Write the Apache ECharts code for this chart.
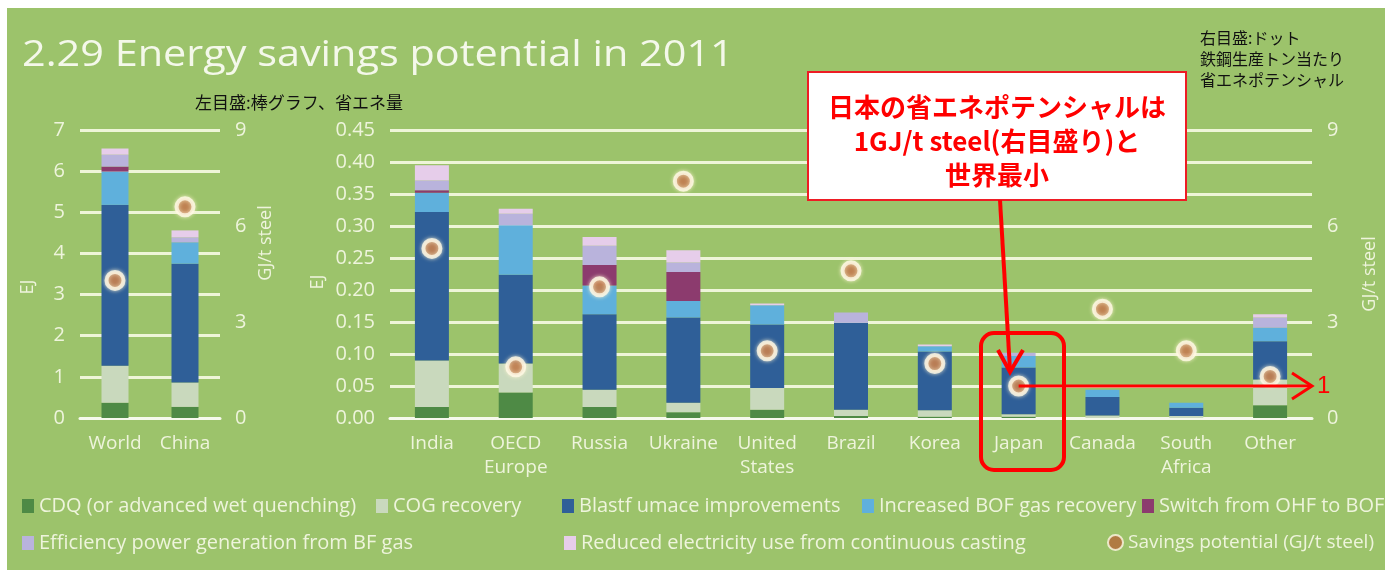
<!DOCTYPE html>
<html><head><meta charset="utf-8">
<script src="https://cdn.jsdelivr.net/npm/echarts@6/dist/echarts.min.js"></script>
<style>
html,body{margin:0;padding:0;background:#ffffff;}
#wrap{position:relative;width:1385px;height:578px;overflow:hidden;}
#bg{position:absolute;left:7px;top:8px;width:1378px;height:562px;background:#9cc36b;}
#c{position:absolute;left:0;top:0;width:1385px;height:578px;}
</style>
</head><body><div id="wrap"><div id="bg"></div><div id="c"></div></div>
<script>
// ---- data ----
const leftCategories = ['World', 'China'];
const rightCategories = ['India', 'OECD\nEurope', 'Russia', 'Ukraine', 'United\nStates', 'Brazil', 'Korea', 'Japan', 'Canada', 'South\nAfrica', 'Other'];
const seriesNames = ['CDQ (or advanced wet quenching)', 'COG recovery', 'Blastf umace improvements', 'Increased BOF gas recovery', 'Switch from OHF to BOF', 'Efficiency power generation from BF gas', 'Reduced electricity use from continuous casting'];
const dotName = 'Savings potential (GJ/t steel)';
// EJ, World / China
const cdqLeft = [0.37, 0.27];
const cogLeft = [0.90, 0.59];
const bfLeft = [3.91, 2.89];
const bofLeft = [0.81, 0.52];
const ohfLeft = [0.12, 0];
const effLeft = [0.29, 0.12];
const redLeft = [0.15, 0.17];
const savingsLeft = [4.3, 6.6];
// EJ, countries
const cdqRight = [0.017, 0.040, 0.017, 0.009, 0.013, 0.003, 0.002, 0.002, 0, 0, 0.020];
const cogRight = [0.073, 0.045, 0.027, 0.015, 0.034, 0.010, 0.010, 0.004, 0.004, 0.003, 0.040];
const bfRight = [0.232, 0.139, 0.118, 0.133, 0.099, 0.136, 0.092, 0.073, 0.029, 0.013, 0.060];
const bofRight = [0.030, 0.077, 0.045, 0.026, 0.030, 0, 0.008, 0.018, 0.011, 0.008, 0.021];
const ohfRight = [0.004, 0, 0.032, 0.045, 0, 0, 0, 0, 0, 0, 0];
const effRight = [0.015, 0.018, 0.030, 0.015, 0, 0.016, 0, 0.005, 0, 0, 0.016];
const redRight = [0.024, 0.008, 0.014, 0.019, 0.003, 0, 0.003, 0, 0, 0, 0.005];
const savingsRight = [5.3, 1.6, 4.1, 7.4, 2.1, 4.6, 1.7, 1.0, 3.4, 2.1, 1.3];
const japanTickLabel = '1';

// ---- style ----
const colors = ['#4e8a45', '#c9d9bd', '#2f5f98', '#5fb0dc', '#8c3b6e', '#b9b3dc', '#e6cdea'];
const cream = '#eef4dc';
const gridCol = 'rgba(242,248,222,0.95)';
const latin = "'Open Sans', 'DejaVu Sans', sans-serif";
const cjk = "'Noto Sans CJK JP', sans-serif";

const leftData = [cdqLeft, cogLeft, bfLeft, bofLeft, ohfLeft, effLeft, redLeft];
const rightData = [cdqRight, cogRight, bfRight, bofRight, ohfRight, effRight, redRight];

const series = [];
seriesNames.forEach((n, i) => {
  series.push({name: n, type: 'bar', stack: 'L', xAxisIndex: 0, yAxisIndex: 0, barWidth: 27,
    itemStyle: {color: colors[i]}, data: leftData[i], animation: false});
});
seriesNames.forEach((n, i) => {
  series.push({name: n, type: 'bar', stack: 'R', xAxisIndex: 1, yAxisIndex: 2, barWidth: 34,
    itemStyle: {color: colors[i]}, data: rightData[i], animation: false});
});
const dotStyle = {color: '#b5693a', borderColor: '#fff9e6', borderWidth: 4, shadowBlur: 4, shadowColor: 'rgba(255,245,210,0.9)'};
series.push({name: dotName, type: 'scatter', xAxisIndex: 0, yAxisIndex: 1, symbolSize: 17, z: 10,
  itemStyle: dotStyle, data: savingsLeft, animation: false});
series.push({name: dotName, type: 'scatter', xAxisIndex: 1, yAxisIndex: 3, symbolSize: 17, z: 10,
  itemStyle: dotStyle, data: savingsRight, animation: false});

const axisLabelStyle = {color: cream, fontSize: 20, fontFamily: latin};
function xAx(gi, data) {
  return {type: 'category', gridIndex: gi, data: data,
    axisLine: {show: true, lineStyle: {color: '#f6f9ec', width: 3}},
    axisTick: {show: false},
    axisLabel: {color: cream, fontSize: 19, fontFamily: latin, margin: 14, lineHeight: 24, interval: 0}};
}
function yAx(gi, max, interval, pos, split, fmt) {
  return {type: 'value', gridIndex: gi, position: pos, min: 0, max: max, interval: interval,
    axisLine: {show: false}, axisTick: {show: false},
    axisLabel: Object.assign({margin: 15, formatter: fmt}, axisLabelStyle),
    splitLine: {show: split, lineStyle: {color: gridCol, width: 3}}};
}

// legend positions
const legendPos = [[22, 496], [376, 496], [562, 496], [862, 496], [1142, 496], [22, 533], [564, 533]];
const legends = seriesNames.map((n, i) => ({
  data: [n], left: legendPos[i][0], top: legendPos[i][1], padding: 0, itemWidth: 12, itemHeight: 14,
  icon: 'rect', selectedMode: false, textStyle: {color: cream, fontSize: 20, fontFamily: latin}
}));
legends.push({data: [dotName], left: 1107, top: 533, padding: 0, itemWidth: 15, itemHeight: 15,
  icon: 'circle', selectedMode: false, textStyle: {color: cream, fontSize: 19, fontFamily: latin}});

const chart = echarts.init(document.getElementById('c'), null, {renderer: 'canvas'});
const option = {
  backgroundColor: 'transparent',
  animation: false,
  legend: legends,
  grid: [
    {left: 80, width: 140, top: 130, height: 288},
    {left: 390, width: 922, top: 130, height: 288}
  ],
  xAxis: [xAx(0, leftCategories), xAx(1, rightCategories)],
  yAxis: [
    yAx(0, 7, 1, 'left', true, v => String(v)),
    yAx(0, 9, 3, 'right', false, v => String(v)),
    yAx(1, 0.45, 0.05, 'left', true, v => v.toFixed(2)),
    yAx(1, 9, 3, 'right', false, v => String(v))
  ],
  series: series,
  graphic: [
    {type: 'text', left: 22, top: 38, scaleX: 1.15, style: {text: '2.29 Energy savings potential in 2011', fill: '#f4f8ea', font: "36px 'Open Sans', sans-serif"}},
    {type: 'text', x: 195, y: 103, style: {text: '左目盛:棒グラフ、省エネ量', fill: '#111', font: "17px " + cjk, verticalAlign: 'middle'}},
    {type: 'text', x: 1200, y: 27, style: {text: '右目盛:ドット\n鉄鋼生産トン当たり\n省エネポテンシャル', fill: '#111', font: "16px " + cjk, lineHeight: 21}},
    {type: 'text', x: 28, y: 287, rotation: Math.PI / 2, style: {text: 'EJ', fill: cream, font: "18px " + latin, align: 'center', verticalAlign: 'middle'}},
    {type: 'text', x: 266, y: 243, rotation: Math.PI / 2, style: {text: 'GJ/t steel', fill: cream, font: "18px " + latin, align: 'center', verticalAlign: 'middle'}},
    {type: 'text', x: 318, y: 282, rotation: Math.PI / 2, style: {text: 'EJ', fill: cream, font: "18px " + latin, align: 'center', verticalAlign: 'middle'}},
    {type: 'text', x: 1370, y: 274, rotation: Math.PI / 2, style: {text: 'GJ/t steel', fill: cream, font: "18px " + latin, align: 'center', verticalAlign: 'middle'}},
    // annotation box
    {type: 'rect', z: 50, shape: {x: 808, y: 72, width: 378, height: 128}, style: {fill: '#ffffff', stroke: '#ee1c24', lineWidth: 2}},
    {type: 'text', z: 51, x: 997, y: 107, style: {text: '日本の省エネポテンシャルは', fill: '#ff0000', font: "bold 26px " + cjk, align: 'center', verticalAlign: 'middle'}},
    {type: 'text', z: 51, x: 997, y: 141, style: {text: '1GJ/t steel(右目盛り)と', fill: '#ff0000', font: "bold 26px " + cjk, align: 'center', verticalAlign: 'middle'}},
    {type: 'text', z: 51, x: 997, y: 175, style: {text: '世界最小', fill: '#ff0000', font: "bold 26px " + cjk, align: 'center', verticalAlign: 'middle'}},
    {type: 'line', z: 50, shape: {x1: 1000, y1: 200, x2: 1010, y2: 370}, style: {stroke: '#ff0000', lineWidth: 4}},
    {type: 'polyline', z: 50, shape: {points: [[998, 350], [1010, 372], [1023, 350]]}, style: {stroke: '#ff0000', lineWidth: 4, fill: null}},
    {type: 'rect', z: 50, shape: {x: 981, y: 333, width: 83, height: 137, r: 13}, style: {fill: null, stroke: '#ff0000', lineWidth: 4}}
  ]
};
chart.setOption(option);

// horizontal arrow from Japan's dot to the right axis
const p = chart.convertToPixel({xAxisIndex: 1, yAxisIndex: 3}, ['Japan', savingsRight[7]]);
const xEnd = 1312;
chart.setOption({graphic: option.graphic.concat([
  {type: 'line', z: 50, shape: {x1: p[0], y1: p[1], x2: xEnd, y2: p[1]}, style: {stroke: '#ff0000', lineWidth: 3}},
  {type: 'polyline', z: 50, shape: {points: [[xEnd - 20, p[1] - 13], [xEnd, p[1]], [xEnd - 20, p[1] + 13]]}, style: {stroke: '#ff0000', lineWidth: 3, fill: null}},
  {type: 'text', z: 50, x: 1317, y: p[1], style: {text: japanTickLabel, fill: '#ff0000', font: "24px 'Liberation Sans', sans-serif", verticalAlign: 'middle'}}
])}, {replaceMerge: ['graphic']});
</script>
</body></html>
